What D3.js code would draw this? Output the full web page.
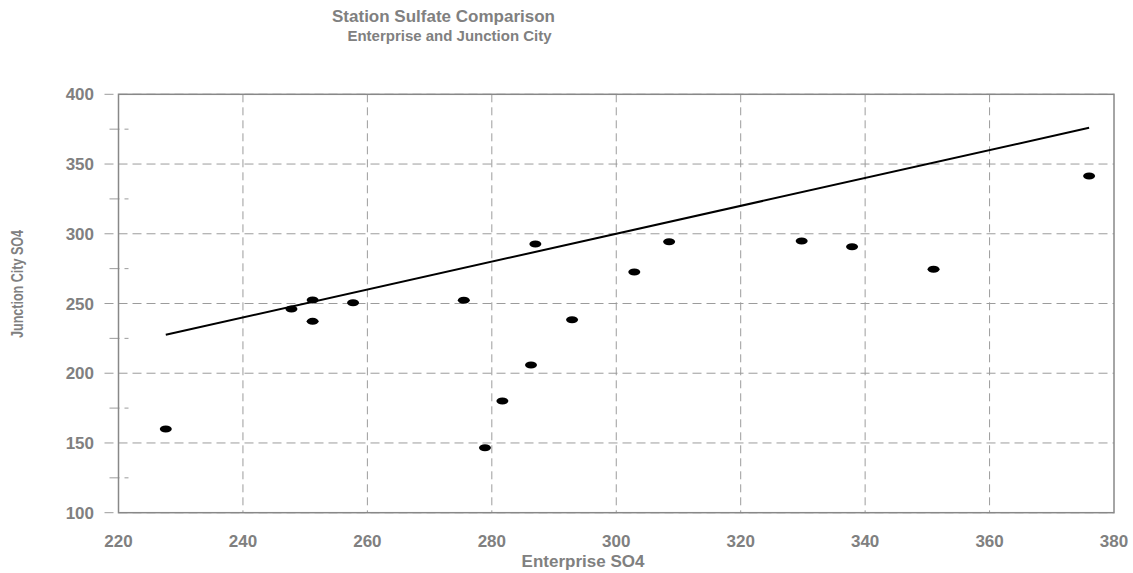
<!DOCTYPE html>
<html>

<head>
    <meta charset="utf-8">
    <script src="https://d3js.org/d3.v7.min.js"></script>
    <style>
        body { margin: 0; background: #fff; }
        text { font-family: Arial, "Liberation Sans", sans-serif; font-weight: bold; fill: #808080; }
    </style>
</head>

<body>
    <script type="text/javascript">
        // data
        let enterprise = [227.6, 247.8, 251.2, 251.2, 257.7, 275.5, 287.0, 292.9, 286.3, 281.7, 278.9, 302.9, 308.5, 329.8, 337.9, 351.0, 376.0];
        let junction   = [160.0, 246.1, 252.5, 237.2, 250.6, 252.3, 292.7, 238.4, 205.9, 180.1, 146.6, 272.6, 294.3, 294.8, 290.7, 274.5, 341.4];
        // 1:1 reference line over the range of the data
        let lineX = [227.6, 376.0];
        let lineY = [227.6, 376.0];

        let xTicks = [220, 240, 260, 280, 300, 320, 340, 360, 380];
        let yTicks = [100, 150, 200, 250, 300, 350, 400];
        let yMinor = [125, 175, 225, 275, 325, 375];

        let width = 1133,
            height = 573,
            plotLeft = 118.5, plotRight = 1114, plotTop = 94.3, plotBottom = 512.7;

        let svg = d3.select("body")
            .append("svg")
                .attr("width", width)
                .attr("height", height);

        let x = d3.scaleLinear().domain([220, 380]).range([plotLeft, plotRight]);
        let y = d3.scaleLinear().domain([100, 400]).range([plotBottom, plotTop]);

        // grid
        svg.append("g").selectAll("line")
            .data(xTicks.slice(1, -1))
            .join("line")
                .attr("x1", d => x(d)).attr("x2", d => x(d))
                .attr("y1", plotTop).attr("y2", plotBottom)
                .attr("stroke", "#9c9c9c")
                .attr("stroke-dasharray", "8,5");

        svg.append("g").selectAll("line")
            .data(yTicks)
            .join("line")
                .attr("x1", plotLeft - 14).attr("x2", plotRight)
                .attr("y1", d => y(d)).attr("y2", d => y(d))
                .attr("stroke", "#9c9c9c")
                .attr("stroke-dasharray", "9,5");

        svg.append("g").selectAll("line")
            .data(yMinor)
            .join("line")
                .attr("x1", plotLeft - 9).attr("x2", plotLeft + 10)
                .attr("y1", d => y(d)).attr("y2", d => y(d))
                .attr("stroke", "#9c9c9c")
                .attr("stroke-dasharray", "10,5");

        // frame
        svg.append("rect")
            .attr("x", plotLeft).attr("y", plotTop)
            .attr("width", plotRight - plotLeft).attr("height", plotBottom - plotTop)
            .attr("fill", "none")
            .attr("stroke", "#888")
            .attr("stroke-width", 1.5);

        // tick labels
        svg.append("g").selectAll("text")
            .data(xTicks)
            .join("text")
                .attr("x", d => x(d))
                .attr("y", 547)
                .attr("text-anchor", "middle")
                .style("font-size", "17px")
                .text(d => d);

        svg.append("g").selectAll("text")
            .data(yTicks)
            .join("text")
                .attr("x", 94)
                .attr("y", d => y(d))
                .attr("dy", "0.36em")
                .attr("text-anchor", "end")
                .style("font-size", "17px")
                .text(d => d);

        // reference line
        svg.append("path")
            .attr("d", d3.line().x(d => x(d[0])).y(d => y(d[1]))(d3.zip(lineX, lineY)))
            .attr("fill", "none")
            .attr("stroke", "black")
            .attr("stroke-width", 2);

        // points
        svg.append("g").selectAll("ellipse")
            .data(d3.zip(enterprise, junction))
            .join("ellipse")
                .attr("cx", d => x(d[0]))
                .attr("cy", d => y(d[1]))
                .attr("rx", 6)
                .attr("ry", 3.5)
                .attr("fill", "black");

        // titles
        svg.append("text")
            .attr("x", 443.5).attr("y", 22)
            .attr("text-anchor", "middle")
            .style("font-size", "17px")
            .text("Station Sulfate Comparison");

        svg.append("text")
            .attr("x", 449.5).attr("y", 41)
            .attr("text-anchor", "middle")
            .style("font-size", "15px")
            .text("Enterprise and Junction City");

        svg.append("text")
            .attr("x", 583).attr("y", 567)
            .attr("text-anchor", "middle")
            .style("font-size", "17px")
            .text("Enterprise SO4");

        svg.append("text")
            .attr("transform", "translate(23,284) rotate(-90)")
            .attr("text-anchor", "middle")
            .attr("textLength", 108)
            .attr("lengthAdjust", "spacingAndGlyphs")
            .style("font-size", "16px")
            .text("Junction City SO4");
    </script>
</body>

</html>
